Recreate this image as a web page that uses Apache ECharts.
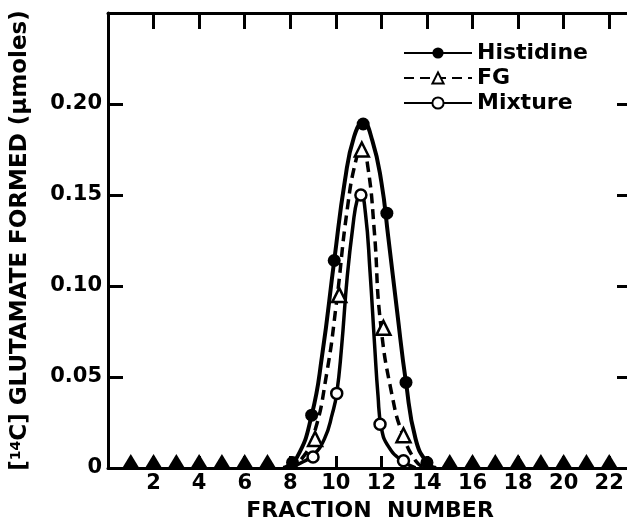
<!DOCTYPE html>
<html><head><meta charset="utf-8">
<script src="https://cdn.jsdelivr.net/npm/echarts@6/dist/echarts.min.js"></script>
<style>html,body{margin:0;padding:0;background:#fff}#c{width:627px;height:523px}</style>
</head><body><div id="c"></div>
<script>
// Measured points
var histPts = [[8.1,0.003],[8.94,0.029],[9.93,0.114],[11.2,0.189],[12.24,0.140],[13.08,0.047],[14.0,0.003]];
var fgPts = [[9.09,0.016],[10.15,0.095],[11.14,0.175],[12.09,0.077],[12.97,0.018]];
var mixPts = [[9.0,0.006],[10.04,0.041],[11.1,0.150],[11.94,0.024],[12.97,0.004]];
var zeroPts = [[1,0],[2,0],[3,0],[4,0],[5,0],[6,0],[7,0],[15,0],[16,0],[17,0],[18,0],[19,0],[20,0],[21,0],[22,0]];
// Fitted curves as drawn in the figure
var histCurve = [[7.7,0],[8.3,0.006],[8.94,0.029],[9.4,0.062],[9.93,0.114],[10.4,0.158],[10.8,0.182],[11.2,0.190],[11.6,0.180],[12.0,0.157],[12.3,0.127],[12.7,0.085],[13.08,0.047],[13.5,0.016],[14.0,0.003],[14.4,0]];
var fgCurve = [[7.9,0],[8.5,0.005],[9.05,0.019],[9.6,0.052],[10.02,0.090],[10.5,0.142],[10.9,0.170],[11.15,0.176],[11.4,0.166],[11.69,0.130],[11.96,0.080],[12.5,0.038],[12.95,0.018],[13.5,0.004],[13.9,0]];
var mixCurve = [[8.0,0],[8.5,0.003],[9.0,0.007],[9.5,0.016],[9.85,0.030],[10.04,0.041],[10.25,0.066],[10.5,0.105],[10.75,0.133],[10.95,0.148],[11.1,0.150],[11.3,0.140],[11.5,0.108],[11.7,0.068],[11.85,0.040],[12.0,0.022],[12.3,0.012],[12.9,0.004],[13.5,0]];
var xTicks = [2,4,6,8,10,12,14,16,18,20,22];
var yTickLabels = ['0','0.05','0.10','0.15','0.20'];

var F = 'DejaVu Sans';
var chart = echarts.init(document.getElementById('c'));
var axisLine = {show:true, onZero:false, lineStyle:{color:'#000', width:3}};
chart.setOption({
  animation:false,
  backgroundColor:'#fff',
  grid:{left:108, top:13, width:524, height:455, outerBoundsMode:'none', containLabel:false},
  legend:{
    left:398, top:37, orient:'vertical', itemGap:3, itemWidth:68, itemHeight:14,
    textStyle:{fontFamily:F, fontWeight:'bold', fontSize:22, color:'#000'},
    data:['Histidine','FG','Mixture']
  },
  xAxis:[{
    type:'value', min:0, max:23, interval:2, position:'bottom',
    axisLine:axisLine, splitLine:{show:false},
    axisTick:{show:true, inside:true, length:12, lineStyle:{color:'#000', width:3}},
    axisLabel:{margin:5, fontFamily:F, fontWeight:'bold', fontSize:21, color:'#000',
      formatter:function(v){return xTicks.indexOf(v)>=0? String(v):'';}},
    name:'FRACTION  NUMBER', nameLocation:'middle', nameGap:32,
    nameTextStyle:{fontFamily:F, fontWeight:'bold', fontSize:22, color:'#000'}
  },{
    type:'value', min:0, max:23, interval:2, position:'top',
    axisLine:axisLine, splitLine:{show:false},
    axisTick:{show:true, inside:true, length:16, lineStyle:{color:'#000', width:3}},
    axisLabel:{show:false}
  }],
  yAxis:[{
    type:'value', min:0, max:0.25, interval:0.05, position:'left',
    axisLine:axisLine, splitLine:{show:false},
    axisTick:{show:true, inside:true, length:15, lineStyle:{color:'#000', width:3}},
    axisLabel:{margin:6, fontFamily:F, fontWeight:'bold', fontSize:21, color:'#000',
      formatter:function(v){var i=Math.round(v/0.05); return yTickLabels[i]||'';}},
    name:'[{sup|14}C] GLUTAMATE FORMED ({mu|μ}moles)', nameLocation:'middle', nameGap:76, nameRotate:90,
    nameTextStyle:{fontFamily:F, fontWeight:'bold', fontSize:23, color:'#000',
      rich:{sup:{fontFamily:F, fontWeight:'bold', fontSize:14, verticalAlign:'top', padding:[0,0,8,0]},
            mu:{fontFamily:F, fontWeight:'bold', fontSize:23}}}
  },{
    type:'value', min:0, max:0.25, interval:0.05, position:'right',
    axisLine:axisLine, splitLine:{show:false},
    axisTick:{show:true, inside:true, length:15, lineStyle:{color:'#000', width:3}},
    axisLabel:{show:false}
  }],
  series:[
    {name:'Histidine', type:'line', data:histCurve, smooth:0.5, showSymbol:false, symbol:'circle', symbolSize:14,
      itemStyle:{color:'#000', opacity:1}, lineStyle:{color:'#000', width:4}, z:3},
    {name:'FG', type:'line', data:fgCurve, smooth:0.5, showSymbol:false, symbol:'triangle', symbolSize:14,
      itemStyle:{color:'#fff', borderColor:'#000', borderWidth:2.5, opacity:1}, lineStyle:{color:'#000', width:3.5, type:[10,6]}, z:3},
    {name:'Mixture', type:'line', data:mixCurve, smooth:0.5, showSymbol:false, symbol:'circle', symbolSize:12,
      itemStyle:{color:'#fff', borderColor:'#000', borderWidth:2.5, opacity:1}, lineStyle:{color:'#000', width:3.5}, z:3},
    {type:'scatter', data:histPts, symbol:'circle', symbolSize:13, itemStyle:{color:'#000', opacity:1}, z:5},
    {type:'scatter', data:fgPts, symbol:'triangle', symbolSize:14, itemStyle:{color:'#fff', borderColor:'#000', borderWidth:2.5, opacity:1}, z:6},
    {type:'scatter', data:mixPts, symbol:'circle', symbolSize:11, itemStyle:{color:'#fff', borderColor:'#000', borderWidth:2.5, opacity:1}, z:6},
    {type:'scatter', data:zeroPts, symbol:'triangle', symbolSize:[17,14], symbolOffset:[0,-7], itemStyle:{color:'#000', opacity:1}, z:5}
  ]
});
</script></body></html>
